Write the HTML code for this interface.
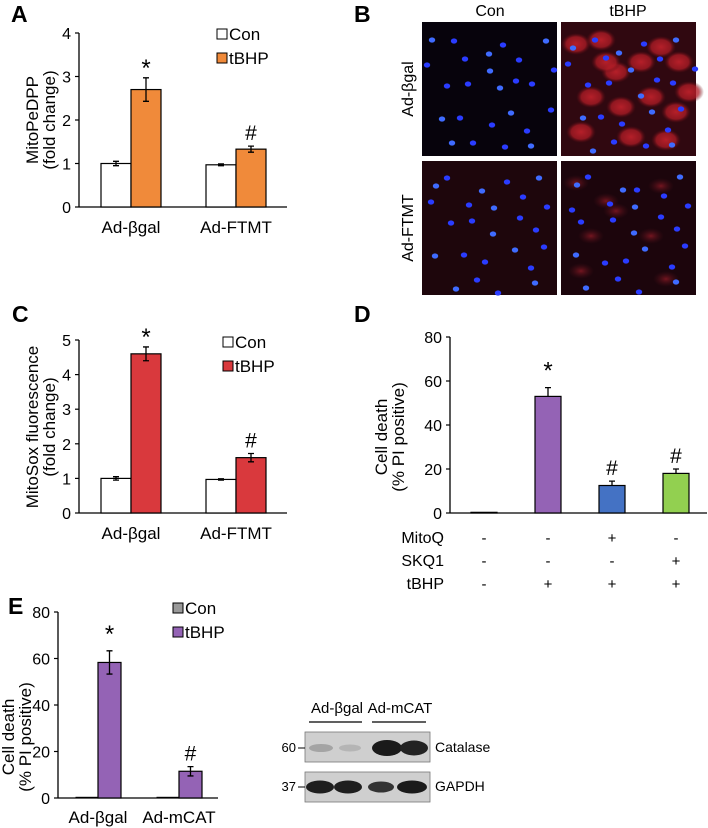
<!DOCTYPE html>
<html><head><meta charset="utf-8"><style>
html,body{margin:0;padding:0;background:#fff;}
svg{display:block;font-family:"Liberation Sans",Arial,sans-serif;}
</style></head><body>
<svg id="fig" width="708" height="828" viewBox="0 0 708 828" xmlns="http://www.w3.org/2000/svg">
<defs>
<radialGradient id="redcell"><stop offset="0" stop-color="#c4222c" stop-opacity="0.9"/><stop offset="0.65" stop-color="#b01c26" stop-opacity="0.75"/><stop offset="1" stop-color="#5a0a12" stop-opacity="0"/></radialGradient>
<radialGradient id="faintcell"><stop offset="0" stop-color="#9a1c28" stop-opacity="0.7"/><stop offset="1" stop-color="#50101a" stop-opacity="0"/></radialGradient>
</defs>
<g id="panel-letters" font-weight="bold" font-size="23" fill="#000">
<text x="11" y="22">A</text>
<text x="354" y="22">B</text>
<text x="12" y="322">C</text>
<text x="354" y="322">D</text>
<text x="8" y="614">E</text>
</g>
<g id="chartA"></g>
<g id="chartC"></g>
<g id="chartD"></g>
<g id="chartE"></g>
<g id="micro">
<text x="490" y="16" text-anchor="middle" font-size="16">Con</text>
<text x="628" y="16" text-anchor="middle" font-size="16">tBHP</text>
<text transform="translate(413,89) rotate(-90)" text-anchor="middle" font-size="16">Ad-βgal</text>
<text transform="translate(413,228) rotate(-90)" text-anchor="middle" font-size="16">Ad-FTMT</text>
</g>
<g id="blot">
<text x="337" y="713" text-anchor="middle" font-size="15">Ad-βgal</text>
<text x="400" y="713" text-anchor="middle" font-size="15">Ad-mCAT</text>
<line x1="309" y1="722" x2="362" y2="722" stroke="#000" stroke-width="1.2"/>
<line x1="372" y1="722" x2="426" y2="722" stroke="#000" stroke-width="1.2"/>
<rect x="305" y="732" width="125" height="30" fill="#cfcfcf" stroke="#777" stroke-width="0.8"/>
<ellipse cx="321" cy="748" rx="12" ry="4" fill="#999" opacity="0.8"/>
<ellipse cx="350" cy="748" rx="11" ry="3.5" fill="#aaa" opacity="0.7"/>
<ellipse cx="387" cy="748" rx="15" ry="8" fill="#1a1a1a"/>
<ellipse cx="414" cy="748" rx="14" ry="7.5" fill="#222"/>
<rect x="305" y="772" width="125" height="30" fill="#cfcfcf" stroke="#777" stroke-width="0.8"/>
<ellipse cx="320" cy="787" rx="14" ry="6.5" fill="#1e1e1e"/>
<ellipse cx="348" cy="787" rx="14" ry="6.5" fill="#1e1e1e"/>
<ellipse cx="381" cy="787" rx="13" ry="5.5" fill="#333"/>
<ellipse cx="412" cy="787" rx="15" ry="6.5" fill="#1a1a1a"/>
<text x="296" y="752" text-anchor="end" font-size="13">60</text>
<line x1="298" y1="748" x2="305" y2="748" stroke="#000"/>
<text x="296" y="791" text-anchor="end" font-size="13">37</text>
<line x1="298" y1="787" x2="305" y2="787" stroke="#000"/>
<text x="435" y="752" font-size="14">Catalase</text>
<text x="435" y="791" font-size="14">GAPDH</text>
</g>
</svg>
<script>
// ---- Panel A data ----
const catsA = ["Ad-βgal", "Ad-FTMT"];
const conA = [1.0, 0.97];
const conErrA = [0.05, 0.02];
const tbhpA = [2.7, 1.33];
const tbhpErrA = [0.27, 0.07];
const ticksA = [0, 1, 2, 3, 4];
const marksA = ["*", "#"];
// ---- Panel C data ----
const catsC = ["Ad-βgal", "Ad-FTMT"];
const conC = [1.0, 0.97];
const conErrC = [0.05, 0.02];
const tbhpC = [4.6, 1.6];
const tbhpErrC = [0.2, 0.12];
const ticksC = [0, 1, 2, 3, 4, 5];
const marksC = ["*", "#"];
// ---- Panel D data ----
const valsD = [0.3, 53, 12.5, 18];
const errD = [0.2, 4, 2, 2];
const colorsD = ["#ffffff", "#9463b5", "#4472c4", "#92d050"];
const marksD = ["", "*", "#", "#"];
const ticksD = [0, 20, 40, 60, 80];
const mitoqD = ["-", "-", "+", "-"];
const skq1D = ["-", "-", "-", "+"];
const tbhpRowD = ["-", "+", "+", "+"];
// ---- Panel E data ----
const catsE = ["Ad-βgal", "Ad-mCAT"];
const conE = [0.3, 0.3];
const tbhpE = [58.3, 11.5];
const tbhpErrE = [5, 2];
const ticksE = [0, 20, 40, 60, 80];
const marksE = ["*", "#"];

const NS = "http://www.w3.org/2000/svg";
const TF = 16, LF = 17;
function mk(parent, tag, attrs, text) {
  const el = document.createElementNS(NS, tag);
  for (const k in attrs) el.setAttribute(k, attrs[k]);
  if (text !== undefined) el.textContent = text;
  parent.appendChild(el);
  return el;
}
function errBar(g, cx, yTop, yBot) {
  const e = mk(g, "path", {d: `M${cx},${yTop}V${yBot}M${cx-3},${yTop}H${cx+3}M${cx-3},${yBot}H${cx+3}`, stroke: "#000", "stroke-width": 1.3, fill: "none"});
  
  
}
function axes(g, x0, xEnd, y0, yTop, ticks, maxV, tickFont) {
  const yS = v => y0 - (y0 - yTop) * v / maxV;
  mk(g, "line", {x1: x0, y1: yTop, x2: x0, y2: y0, stroke: "#000", "stroke-width": 1.3});
  const xl = mk(g, "line", {x1: x0, y1: y0, x2: xEnd, y2: y0, stroke: "#000", "stroke-width": 1.3});
  
  
  ticks.forEach(t => {
    mk(g, "line", {x1: x0 - 4, y1: yS(t), x2: x0, y2: yS(t), stroke: "#000", "stroke-width": 1.2});
    const tl = mk(g, "text", {x: x0 - 8, y: yS(t) + 6, "text-anchor": "end", "font-size": tickFont}, String(t));
    
    
  });
  return yS;
}
function yTitle(g, cx, cy, l1, l2, fs) {
  const t1 = mk(g, "text", {transform: `translate(${cx},${cy}) rotate(-90)`, "text-anchor": "middle", "font-size": fs}, l1);
  
  
  const t2 = mk(g, "text", {transform: `translate(${cx + 17},${cy}) rotate(-90)`, "text-anchor": "middle", "font-size": fs}, l2);
  
  
}
function legend(g, x, y1, y2, conFill, tFill, fs) {
  const s1 = mk(g, "rect", {x: x, y: y1 - 5, width: 10, height: 10, fill: conFill, stroke: "#000", "stroke-width": 1});
  
  
  const t1 = mk(g, "text", {x: x + 12, y: y1 + 6, "font-size": fs}, "Con");
  
  
  const s2 = mk(g, "rect", {x: x, y: y2 - 5, width: 10, height: 10, fill: tFill, stroke: "#000", "stroke-width": 1});
  
  
  const t2 = mk(g, "text", {x: x + 12, y: y2 + 6, "font-size": fs}, "tBHP");
  
  
}
function grouped(g, cfg, cats, con, conErr, tb, tbErr, marks) {
  const yS = axes(g, cfg.x0, cfg.xEnd, cfg.y0, cfg.yTop, cfg.ticks, cfg.max, TF);
  cats.forEach((c, i) => {
    const gx = cfg.gx[i];
    const bw = cfg.bw;
    const b1 = mk(g, "rect", {x: gx - bw, y: yS(con[i]), width: bw, height: cfg.y0 - yS(con[i]), fill: cfg.conFill, stroke: "#000", "stroke-width": 1.2});
    
    
    if (conErr) errBar(g, gx - bw / 2, yS(con[i] + conErr[i]), yS(con[i] - conErr[i]));
    const b2 = mk(g, "rect", {x: gx, y: yS(tb[i]), width: bw, height: cfg.y0 - yS(tb[i]), fill: cfg.tFill, stroke: "#000", "stroke-width": 1.2});
    
    
    errBar(g, gx + bw / 2, yS(tb[i] + tbErr[i]), yS(tb[i] - tbErr[i]));
    const m = mk(g, "text", {x: gx + bw / 2, y: yS(tb[i] + tbErr[i]) - (marks[i] === "*" ? 2 : 6), "text-anchor": "middle", "font-size": marks[i] === "*" ? 24 : 21}, marks[i]);
    
    
    const cl = mk(g, "text", {x: gx, y: cfg.labelY, "text-anchor": "middle", "font-size": LF}, c);
    
    
  });
}

// Panel A
const gA = document.getElementById("chartA");
grouped(gA, {x0: 79, xEnd: 287, y0: 207, yTop: 33, ticks: ticksA, max: 4, gx: [131, 236], bw: 30, conFill: "#fff", tFill: "#f08a3a", labelY: 233}, catsA, conA, conErrA, tbhpA, tbhpErrA, marksA);
yTitle(gA, 38, 120, "MitoPeDPP", "(fold change)", LF);
legend(gA, 217, 34, 58, "#fff", "#f08a3a", LF);

// Panel C
const gC = document.getElementById("chartC");
grouped(gC, {x0: 79, xEnd: 287, y0: 513, yTop: 340, ticks: ticksC, max: 5, gx: [131, 236], bw: 30, conFill: "#fff", tFill: "#d9393d", labelY: 539}, catsC, conC, conErrC, tbhpC, tbhpErrC, marksC);
yTitle(gC, 38, 427, "MitoSox fluorescence", "(fold change)", LF);
legend(gC, 223, 342, 366, "#fff", "#d9393d", LF);

// Panel D
const gD = document.getElementById("chartD");
(function () {
  const x0 = 450, y0 = 513, yTop = 337;
  const yS = axes(gD, x0, 707, y0, yTop, ticksD, 80, TF);
  const cx = i => 484 + i * 64;
  valsD.forEach((v, i) => {
    const b = mk(gD, "rect", {x: cx(i) - 13, y: yS(v), width: 26, height: y0 - yS(v), fill: colorsD[i], stroke: "#000", "stroke-width": 1.2});
    
    
    if (i > 0) {
      mk(gD, "path", {d: `M${cx(i)},${yS(v)}V${yS(v + errD[i])}M${cx(i) - 3},${yS(v + errD[i])}H${cx(i) + 3}`, stroke: "#000", "stroke-width": 1.3});
    }
    if (marksD[i]) {
      const m = mk(gD, "text", {x: cx(i), y: yS(v + errD[i]) - (marksD[i] === "*" ? 9 : 6), "text-anchor": "middle", "font-size": marksD[i] === "*" ? 24 : 21}, marksD[i]);
      
      
    }
  });
  const rows = [["MitoQ", mitoqD, 543], ["SKQ1", skq1D, 566], ["tBHP", tbhpRowD, 589]];
  rows.forEach(r => {
    const l = mk(gD, "text", {x: 444, y: r[2], "text-anchor": "end", "font-size": 16}, r[0]);
    
    
    r[1].forEach((s, i) => {
      const t = mk(gD, "text", {x: cx(i), y: r[2], "text-anchor": "middle", "font-size": 15}, s);
      
      
    });
  });
  yTitle(gD, 387, 437, "Cell death", "(% PI positive)", LF);
})();

// Panel E
const gE = document.getElementById("chartE");
(function () {
  const x0 = 58, y0 = 798, yTop = 612;
  const yS = axes(gE, x0, 218, y0, yTop, ticksE, 80, TF);
  const gx = [98, 179];
  catsE.forEach((c, i) => {
    const b1 = mk(gE, "rect", {x: gx[i] - 22, y: yS(conE[i]), width: 22, height: y0 - yS(conE[i]), fill: "#999", stroke: "#000", "stroke-width": 1});
    
    
    const b2 = mk(gE, "rect", {x: gx[i], y: yS(tbhpE[i]), width: 23, height: y0 - yS(tbhpE[i]), fill: "#9463b5", stroke: "#000", "stroke-width": 1.2});
    
    
    errBar(gE, gx[i] + 11.5, yS(tbhpE[i] + tbhpErrE[i]), yS(tbhpE[i] - tbhpErrE[i]));
    const m = mk(gE, "text", {x: gx[i] + 11.5, y: yS(tbhpE[i] + tbhpErrE[i]) - (marksE[i] === "*" ? 9 : 6), "text-anchor": "middle", "font-size": marksE[i] === "*" ? 24 : 21}, marksE[i]);
    
    
    const cl = mk(gE, "text", {x: gx[i], y: 823, "text-anchor": "middle", "font-size": LF}, c);
    
    
  });
  yTitle(gE, 14, 737, "Cell death", "(% PI positive)", LF);
  legend(gE, 173, 608, 632, "#999", "#9463b5", LF);
})();

// Microscopy images
const gM = document.getElementById("micro");
const tiles = [
  {x: 422, y: 22, bg: "#07030c", red: 0, name: "image-bgal-con"},
  {x: 561, y: 22, bg: "#300810", red: 2, name: "image-bgal-tbhp"},
  {x: 422, y: 161, bg: "#1e060c", red: 0, name: "image-ftmt-con"},
  {x: 561, y: 161, bg: "#1c050c", red: 1, name: "image-ftmt-tbhp"}
];
const nuclei = [[15,22],[30,18],[45,40],[62,30],[80,25],[100,35],[120,20],[25,60],[50,62],[75,70],[95,58],[115,65],[18,95],[40,98],[65,100],[88,92],[108,105],[125,88],[30,125],[55,120],[80,128],[110,122],[10,45],[130,45],[70,50]];
const cells = [[15,22],[40,18],[55,50],[80,40],[100,25],[118,40],[30,75],[60,85],[90,75],[115,90],[20,110],[70,115],[105,118],[128,70],[45,40]];
tiles.forEach((t, k) => {
  const r = mk(gM, "rect", {x: t.x, y: t.y, width: 135, height: 134, fill: t.bg});
  
  
  if (t.red === 2) cells.forEach(c => mk(gM, "ellipse", {cx: t.x + c[0], cy: t.y + c[1], rx: 15, ry: 11, fill: "url(#redcell)"}));
  if (t.red === 1) cells.forEach((c, i) => { if (i % 2 === 0) mk(gM, "ellipse", {cx: t.x + c[0], cy: t.y + c[1], rx: 13, ry: 8, fill: "url(#faintcell)"}); });
  nuclei.forEach((n, i) => {
    const jx = ((i * 7 + k * 13) % 11) - 5, jy = ((i * 5 + k * 17) % 9) - 4;
    mk(gM, "ellipse", {cx: t.x + n[0] + jx, cy: t.y + n[1] + jy, rx: 3.2, ry: 2.6, fill: i % 3 ? "#2a3cff" : "#3f6bff"});
  });
});
</script>
</body></html>
